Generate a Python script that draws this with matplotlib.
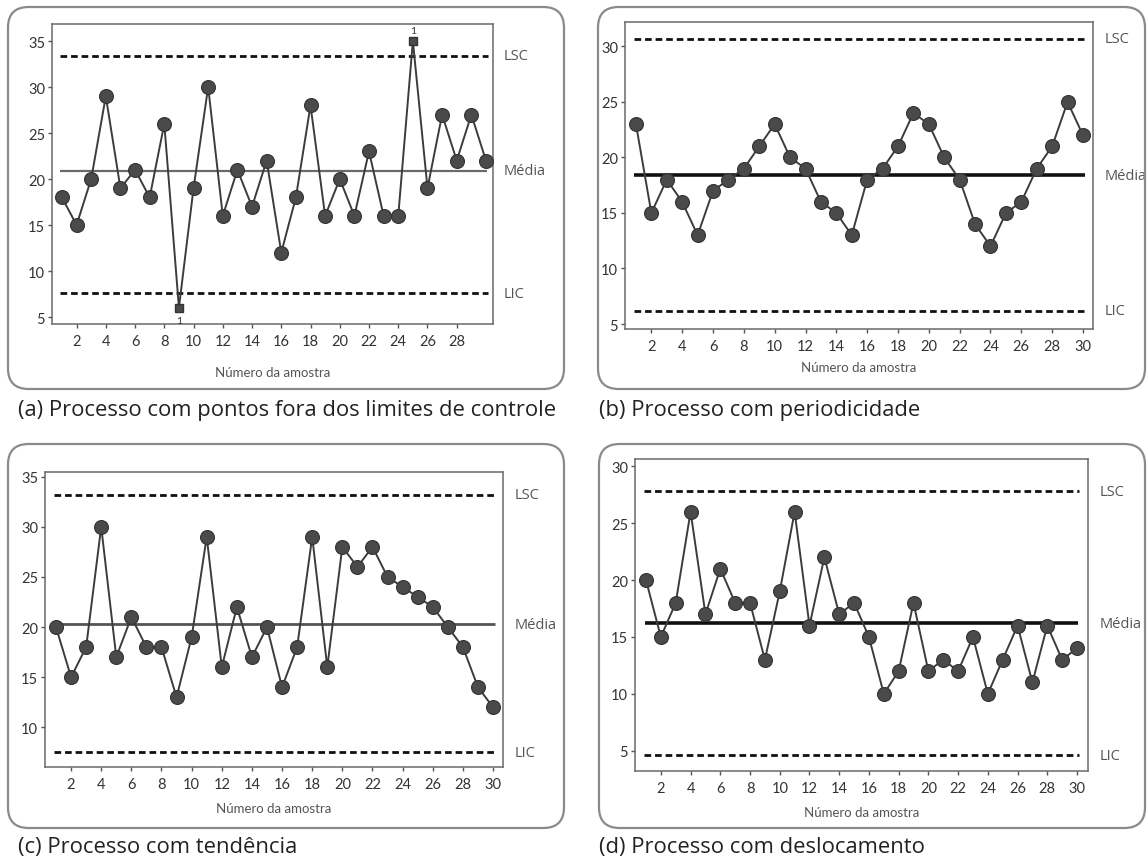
import matplotlib
matplotlib.use("Agg")
import matplotlib.pyplot as plt
from matplotlib.patches import FancyBboxPatch
import numpy as np

W, H = 1148, 862

amostra = np.arange(1, 31)

# (a) pontos fora dos limites
vals_a = [18, 15, 20, 29, 19, 21, 18, 26, 6, 19, 30, 16, 21, 17, 22,
          12, 18, 28, 16, 20, 16, 23, 16, 16, 35, 19, 27, 22, 27, 22]
lim_a = (33.4, 20.9, 7.6)          # LSC, Média, LIC
fora_a = [9, 25]                   # amostras fora dos limites

# (b) periodicidade
vals_b = [23, 15, 18, 16, 13, 17, 18, 19, 21, 23, 20, 19, 16, 15, 13,
          18, 19, 21, 24, 23, 20, 18, 14, 12, 15, 16, 19, 21, 25, 22]
lim_b = (30.7, 18.4, 6.2)

# (c) tendência
vals_c = [20, 15, 18, 30, 17, 21, 18, 18, 13, 19, 29, 16, 22, 17, 20,
          14, 18, 29, 16, 28, 26, 28, 25, 24, 23, 22, 20, 18, 14, 12]
lim_c = (33.2, 20.3, 7.5)

# (d) deslocamento
vals_d = [20, 15, 18, 26, 17, 21, 18, 18, 13, 19, 26, 16, 22, 17, 18,
          15, 10, 12, 18, 12, 13, 12, 15, 10, 13, 16, 11, 16, 13, 14]
lim_d = (27.8, 16.2, 4.6)

legendas = ["(a) Processo com pontos fora dos limites de controle",
            "(b) Processo com periodicidade",
            "(c) Processo com tendência",
            "(d) Processo com deslocamento"]
rotulos_lim = ["LSC", "Média", "LIC"]

plt.rcParams['font.family'] = ['Lato', 'DejaVu Sans']

fig = plt.figure(figsize=(W / 100, H / 100), dpi=100)


def px_rect(l, r, t, b):
    return [l / W, 1 - b / H, (r - l) / W, (b - t) / H]


# rounded frames around each panel
for (l, r, t, b) in [(8, 564, 8, 390), (598, 1145, 8, 390),
                     (8, 564, 445, 829), (599, 1145, 445, 829)]:
    fig.patches.append(FancyBboxPatch(
        (l / W, 1 - b / H), (r - l) / W, (b - t) / H,
        boxstyle="round,pad=0,rounding_size=0.018",
        transform=fig.transFigure, facecolor="none",
        edgecolor="#8a8a8a", lw=1.6, mutation_aspect=W / H))

paineis = [
    (vals_a, lim_a, px_rect(52, 493, 25, 325), (0.32, 30.48), (4.24, 36.85),
     np.arange(2, 29, 2), np.arange(5, 36, 5), "#6a6a6a", 1.6, 13),
    (vals_b, lim_b, px_rect(625, 1093, 23, 330), (0.29, 30.65), (4.55, 32.2),
     np.arange(2, 31, 2), np.arange(5, 31, 5), "#111111", 2.6, 6),
    (vals_c, lim_c, px_rect(45, 503, 473, 768), (0.27, 30.66), (6.04, 35.47),
     np.arange(2, 31, 2), np.arange(10, 36, 5), "#555555", 2.0, 8),
    (vals_d, lim_d, px_rect(635, 1088, 460, 772), (0.26, 30.74), (3.22, 30.64),
     np.arange(2, 31, 2), np.arange(5, 31, 5), "#111111", 2.6, 8),
]

for i, (vals, lims, rect, xl, yl, xt, yt, cor_media, lw_media, lpad) in enumerate(paineis):
    ax = fig.add_axes(rect)
    lsc, media, lic = lims
    ax.hlines([lsc, lic], 0.85, 30.15, colors="#111111", lw=2.0,
              linestyles=(0, (2.4, 1.4)))
    ax.hlines(media, 0.9, 30.1, colors=cor_media, lw=lw_media)
    ax.plot(amostra, vals, color="#3c3c3c", lw=1.4, zorder=3)
    if i == 0:
        normais = [k for k in range(30) if amostra[k] not in fora_a]
        ax.plot(amostra[normais], np.array(vals)[normais], "o", ms=10,
                color="#4a4a4a", mec="#333333", mew=0.8, zorder=4)
        for n in fora_a:
            ax.plot(n, vals[n - 1], "s", ms=5.5, color="#4a4a4a",
                    mec="#333333", zorder=4, clip_on=False)
        ax.text(9, vals[8] - 0.9, "1", ha="center", va="top", fontsize=7.5,
                color="#333333")
        ax.text(25, vals[24] + 0.7, "1", ha="center", va="bottom",
                fontsize=7.5, color="#333333", clip_on=False)
    else:
        ax.plot(amostra, vals, "o", ms=10, color="#4a4a4a", mec="#333333",
                mew=0.8, zorder=4)
    ax.set_xlim(*xl)
    ax.set_ylim(*yl)
    ax.set_xticks(xt)
    ax.set_yticks(yt)
    ax.tick_params(labelsize=10.5, colors="#333333", length=3, width=1,
                   pad=2, color="#555555")
    ax.tick_params(axis="x", pad=4)
    for s in ax.spines.values():
        s.set_color("#6a6a6a")
        s.set_linewidth(1.1)
    ax.set_xlabel("Número da amostra", fontsize=9.5, color="#555555",
                  labelpad=lpad)
    for rot, v in zip(rotulos_lim, lims):
        ax.text(1.025, v, rot, transform=ax.get_yaxis_transform(),
                fontsize=10.5, color="#555555", va="center", ha="left",
                family=['Open Sans', 'DejaVu Sans'])

for txt, (x, y) in zip(legendas, [(18, 411), (599, 411), (18, 848), (599, 848)]):
    fig.text(x / W, 1 - y / H, txt, fontsize=15.8, color="#222222",
             va="center", ha="left", family=['Open Sans', 'DejaVu Sans'])

fig.savefig("out.png", dpi=100, facecolor="white")
